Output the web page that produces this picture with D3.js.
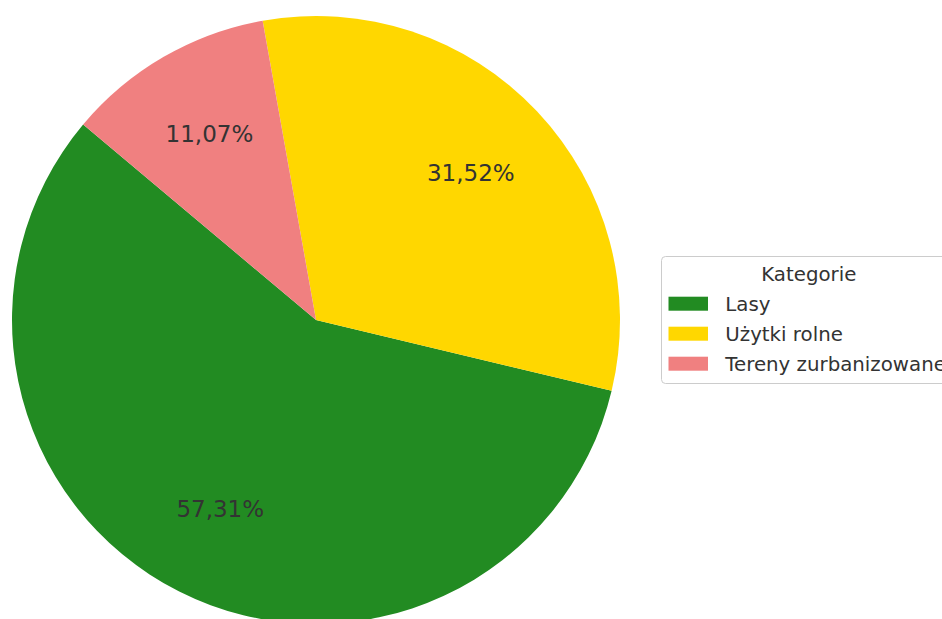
<!DOCTYPE html>
<html>
<head>
<meta charset="utf-8">
<script src="https://cdn.jsdelivr.net/npm/d3@7"></script>
<style>
  html, body { margin: 0; padding: 0; background: #ffffff; }
  svg { display: block; }
</style>
</head>
<body>
<svg id="chart" width="942" height="619"></svg>
<script>
const categories = ["Lasy", "Użytki rolne", "Tereny zurbanizowane"];
const values = [57.31, 31.52, 11.07];
const colors = ["#228B22", "#FFD700", "#F08080"];
const legendTitle = "Kategorie";

const W = 942, H = 619;
const cx = 316, cy = 320, R = 304;
const textColor = "#333333";
const font = "'DejaVu Sans', sans-serif";

const svg = d3.select("#chart");

// matplotlib startangle=140, counterclockwise  -> d3 angle = 90deg - theta
const start = (90 - 140) * Math.PI / 180;
const pie = d3.pie().sort(null).value(d => d.v)
  .startAngle(start).endAngle(start - 2 * Math.PI);

const data = categories.map((c, i) => ({ c, v: values[i], col: colors[i] }));
const arcs = pie(data);

const arc = d3.arc().innerRadius(0).outerRadius(R);
const labelArc = d3.arc().innerRadius(R * 0.7).outerRadius(R * 0.7);

const g = svg.append("g").attr("transform", `translate(${cx},${cy})`);

g.selectAll("path.slice").data(arcs).join("path")
  .attr("class", "slice")
  .attr("d", arc)
  .attr("fill", d => d.data.col);

const pctSize = 23;
g.selectAll("text.pct").data(arcs).join("text")
  .attr("class", "pct")
  .attr("x", d => labelArc.centroid(d)[0])
  .attr("y", d => labelArc.centroid(d)[1] + pctSize * 0.29)
  .attr("text-anchor", "middle")
  .attr("font-family", font)
  .attr("font-size", pctSize)
  .attr("fill", textColor)
  .text(d => d.data.v.toFixed(2).replace(".", ",") + "%");

// Legend
const legFs = 19.8;
const lx = 661, ly = 256, lw = 300, lh = 128;
const leg = svg.append("g");
leg.append("rect")
  .attr("x", lx + 0.5).attr("y", ly + 0.5)
  .attr("width", lw).attr("height", lh - 1)
  .attr("rx", 4).attr("ry", 4)
  .attr("fill", "#ffffff").attr("fill-opacity", 0.8)
  .attr("stroke", "#cccccc").attr("stroke-width", 1);

leg.append("text")
  .attr("x", 808.8).attr("y", 280.5)
  .attr("text-anchor", "middle")
  .attr("font-family", font).attr("font-size", legFs)
  .attr("fill", textColor)
  .text(legendTitle);

const rowY = d3.scalePoint().domain(categories).range([303.7, 363.7]);
const items = leg.selectAll("g.item").data(data).join("g").attr("class", "item");
items.append("rect")
  .attr("x", 668.5)
  .attr("y", d => rowY(d.c) - 7)
  .attr("width", 39.5).attr("height", 14)
  .attr("fill", d => d.col);
items.append("text")
  .attr("x", 725.3)
  .attr("y", d => rowY(d.c) + 7)
  .attr("font-family", font).attr("font-size", legFs)
  .attr("fill", textColor)
  .text(d => d.c);
</script>
</body>
</html>
